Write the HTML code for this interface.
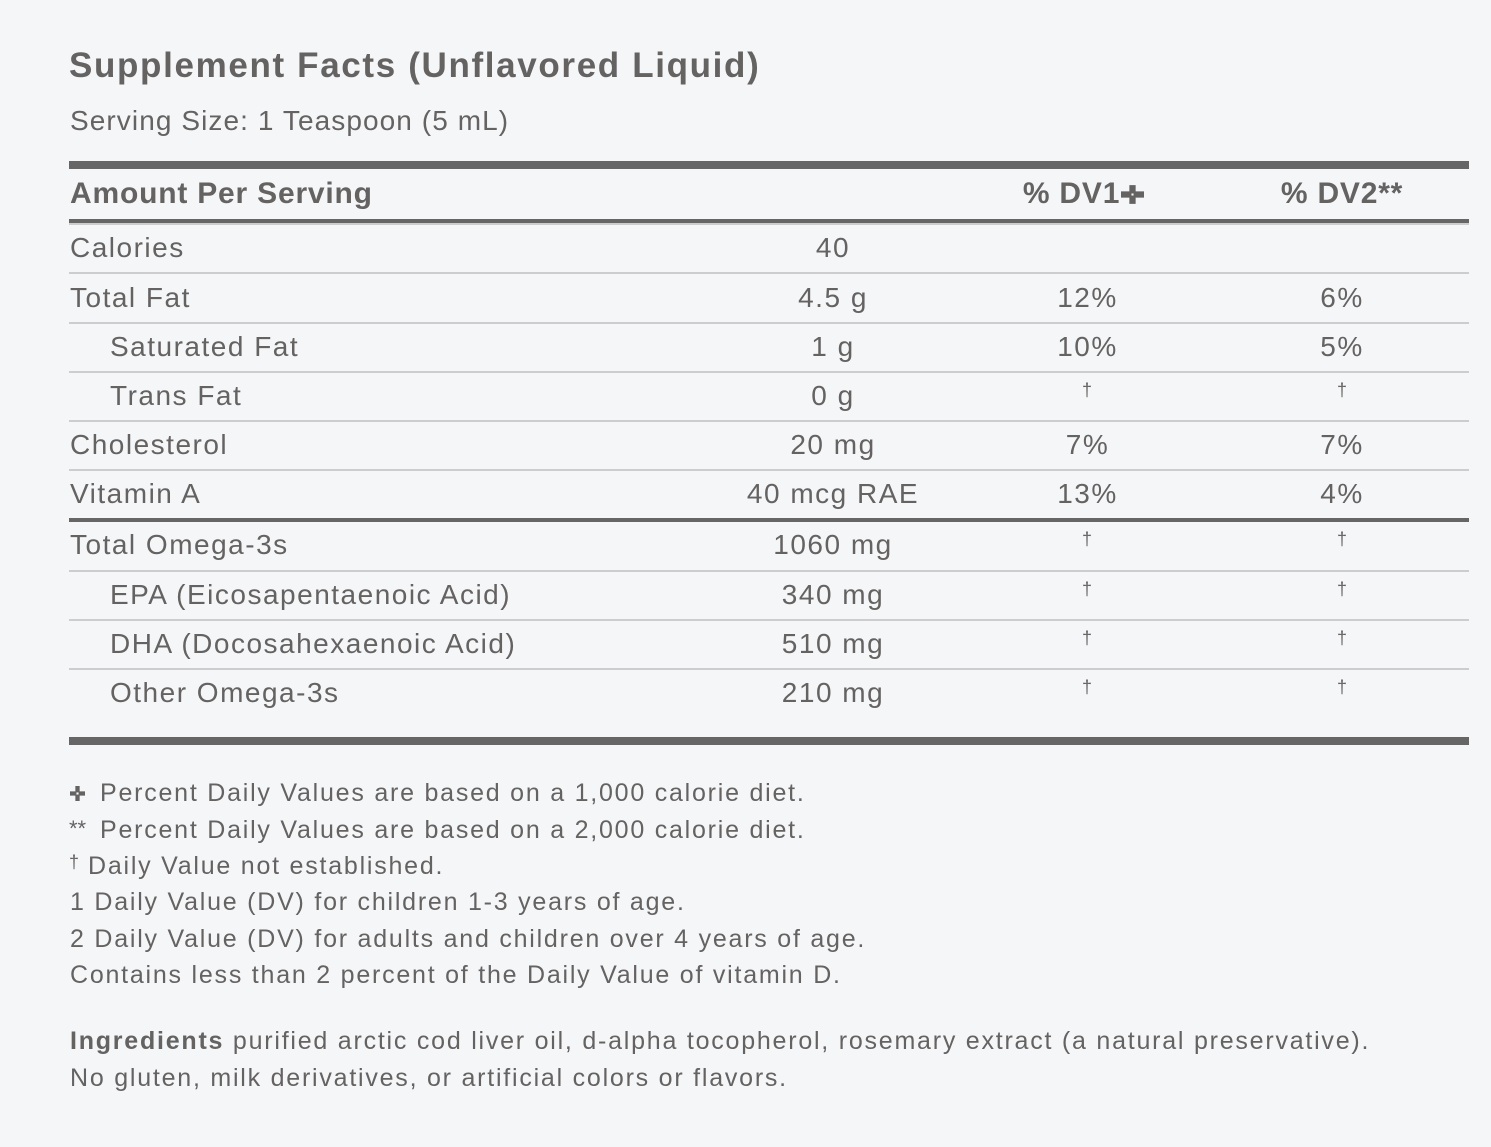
<!DOCTYPE html>
<html><head><meta charset="utf-8">
<style>
html,body{margin:0;padding:0;}
body{width:1491px;height:1147px;background:#f4f6f8;position:relative;overflow:hidden;font-family:"Liberation Sans",Arial,sans-serif;color:#656262;}
.a{position:absolute;white-space:nowrap;}
.t{font-weight:bold;font-size:35px;line-height:40px;letter-spacing:1.65px;}
.s{font-size:28px;line-height:34px;letter-spacing:1.08px;}
.h{font-weight:bold;font-size:30px;line-height:36px;letter-spacing:0.8px;}
.r{font-size:28px;line-height:34px;letter-spacing:1.5px;}
.c{text-align:center;}
.f{font-size:25px;line-height:30px;letter-spacing:1.77px;}
.d{font-size:18px;line-height:20px;width:40px;text-align:center;}
.ln{position:absolute;left:69px;width:1400px;}
.dk{background:#666;}
.lt{background:#cdcdcf;}
</style></head><body>

<div class="a t" style="left:69px;top:46px;">Supplement Facts (Unflavored Liquid)</div>
<div class="a s" style="left:70px;top:104px;">Serving Size: 1 Teaspoon (5 mL)</div>

<div class="ln dk" style="top:161px;height:8px;"></div>

<div class="a h" style="left:70px;top:176px;">Amount Per Serving</div>
<div class="a h c" style="left:956px;width:255px;top:176px;">% DV1<svg width="23" height="19" viewBox="0 0 22 18" style="vertical-align:-1px;margin-left:1px"><path d="M8 0h6v6h8v6h-8v6h-6v-6h-8v-6h8z" fill="#656262"/><rect x="10" y="8" width="2" height="2" fill="#f4f6f8"/></svg></div>
<div class="a h c" style="left:1215px;width:254px;top:176px;">% DV2**</div>

<div class="ln dk" style="top:219px;height:4px;"></div>
<div class="ln lt" style="top:223px;height:2px;"></div>

<!-- rows -->
<div class="a r" style="left:70px;top:231px;">Calories</div>
<div class="a r c" style="left:706px;width:254px;top:231px;">40</div>
<div class="ln lt" style="top:272px;height:2px;"></div>

<div class="a r" style="left:70px;top:281px;">Total Fat</div>
<div class="a r c" style="left:706px;width:254px;top:281px;">4.5 g</div>
<div class="a r c" style="left:960px;width:255px;top:281px;">12%</div>
<div class="a r c" style="left:1215px;width:254px;top:281px;">6%</div>
<div class="ln lt" style="top:322px;height:2px;"></div>

<div class="a r" style="left:110px;top:330px;">Saturated Fat</div>
<div class="a r c" style="left:706px;width:254px;top:330px;">1 g</div>
<div class="a r c" style="left:960px;width:255px;top:330px;">10%</div>
<div class="a r c" style="left:1215px;width:254px;top:330px;">5%</div>
<div class="ln lt" style="top:371px;height:2px;"></div>

<div class="a r" style="left:110px;top:379px;">Trans Fat</div>
<div class="a r c" style="left:706px;width:254px;top:379px;">0 g</div>
<div class="a d" style="left:1067px;top:380px;">†</div>
<div class="a d" style="left:1322px;top:380px;">†</div>
<div class="ln lt" style="top:420px;height:2px;"></div>

<div class="a r" style="left:70px;top:428px;">Cholesterol</div>
<div class="a r c" style="left:706px;width:254px;top:428px;">20 mg</div>
<div class="a r c" style="left:960px;width:255px;top:428px;">7%</div>
<div class="a r c" style="left:1215px;width:254px;top:428px;">7%</div>
<div class="ln lt" style="top:469px;height:2px;"></div>

<div class="a r" style="left:70px;top:477px;">Vitamin A</div>
<div class="a r c" style="left:706px;width:254px;top:477px;">40 mcg RAE</div>
<div class="a r c" style="left:960px;width:255px;top:477px;">13%</div>
<div class="a r c" style="left:1215px;width:254px;top:477px;">4%</div>
<div class="ln dk" style="top:518px;height:4px;"></div>

<div class="a r" style="left:70px;top:528px;">Total Omega-3s</div>
<div class="a r c" style="left:706px;width:254px;top:528px;">1060 mg</div>
<div class="a d" style="left:1067px;top:529px;">†</div>
<div class="a d" style="left:1322px;top:529px;">†</div>
<div class="ln lt" style="top:570px;height:2px;"></div>

<div class="a r" style="left:110px;top:578px;">EPA (Eicosapentaenoic Acid)</div>
<div class="a r c" style="left:706px;width:254px;top:578px;">340 mg</div>
<div class="a d" style="left:1067px;top:579px;">†</div>
<div class="a d" style="left:1322px;top:579px;">†</div>
<div class="ln lt" style="top:619px;height:2px;"></div>

<div class="a r" style="left:110px;top:627px;">DHA (Docosahexaenoic Acid)</div>
<div class="a r c" style="left:706px;width:254px;top:627px;">510 mg</div>
<div class="a d" style="left:1067px;top:628px;">†</div>
<div class="a d" style="left:1322px;top:628px;">†</div>
<div class="ln lt" style="top:668px;height:2px;"></div>

<div class="a r" style="left:110px;top:676px;">Other Omega-3s</div>
<div class="a r c" style="left:706px;width:254px;top:676px;">210 mg</div>
<div class="a d" style="left:1067px;top:677px;">†</div>
<div class="a d" style="left:1322px;top:677px;">†</div>

<div class="ln dk" style="top:737px;height:8px;"></div>

<!-- footnotes -->
<svg class="a" style="left:70px;top:786px;" width="15" height="15" viewBox="0 0 14 14"><path d="M5 0h4v5h5v4h-5v5h-4v-5h-5v-4h5z" fill="#656262"/><rect x="6" y="6" width="2" height="2" fill="#f4f6f8"/></svg>
<div class="a f" style="left:100px;top:778px;">Percent Daily Values are based on a 1,000 calorie diet.</div>
<div class="a" style="left:69px;top:817px;font-size:22px;line-height:24px;letter-spacing:0px;">**</div>
<div class="a f" style="left:100px;top:815px;">Percent Daily Values are based on a 2,000 calorie diet.</div>
<div class="a" style="left:69px;top:852px;font-size:18px;line-height:20px;">†</div>
<div class="a f" style="left:88px;top:851px;">Daily Value not established.</div>
<div class="a f" style="left:70px;top:887px;">1 Daily Value (DV) for children 1-3 years of age.</div>
<div class="a f" style="left:70px;top:924px;">2 Daily Value (DV) for adults and children over 4 years of age.</div>
<div class="a f" style="left:70px;top:960px;">Contains less than 2 percent of the Daily Value of vitamin D.</div>

<div class="a f" style="left:70px;top:1026px;"><b>Ingredients</b> purified arctic cod liver oil, d-alpha tocopherol, rosemary extract (a natural preservative).</div>
<div class="a f" style="left:70px;top:1063px;">No gluten, milk derivatives, or artificial colors or flavors.</div>

</body></html>
